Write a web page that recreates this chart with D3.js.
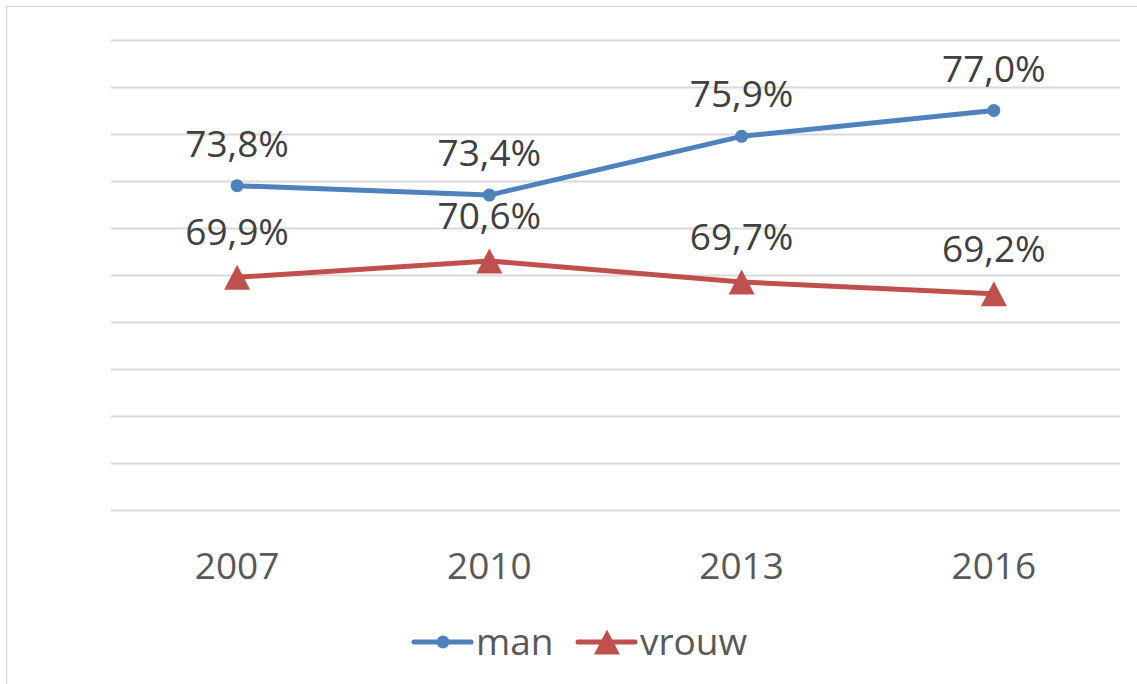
<!DOCTYPE html>
<html>
<head>
<meta charset="utf-8">
<script src="https://cdn.jsdelivr.net/npm/d3@7"></script>
<style>
  body { margin: 0; background: #fff; }
  svg { display: block; font-family: "Open Sans", "Noto Sans", sans-serif; }
</style>
</head>
<body>
<div id="chart"></div>
<script>
const years = ['2007', '2010', '2013', '2016'];
const manValues = [73.8, 73.4, 75.9, 77.0];
const vrouwValues = [69.9, 70.6, 69.7, 69.2];
const gridTicks = [60, 62, 64, 66, 68, 70, 72, 74, 76, 78, 80];

const W = 1137, H = 684;
const PLOT = { left: 111, right: 1120, top: 40, bottom: 510 };
const FONT = '37px';

const svg = d3.select('#chart').append('svg')
  .attr('width', W).attr('height', H);

// chart frame
svg.append('rect')
  .attr('x', 6.5).attr('y', 6.5)
  .attr('width', W + 10).attr('height', H + 10)
  .attr('fill', 'none').attr('stroke', '#d9d9d9').attr('stroke-width', 1.5);

const x = d3.scaleBand().domain(years).range([PLOT.left, PLOT.right]);
const y = d3.scaleLinear().domain([60, 80]).range([PLOT.bottom, PLOT.top]);

// gridlines
svg.append('g')
  .selectAll('line').data(gridTicks).join('line')
  .attr('x1', PLOT.left).attr('x2', PLOT.right)
  .attr('y1', d => Math.round(y(d)) + 0.5).attr('y2', d => Math.round(y(d)) + 0.5)
  .attr('stroke', '#d9d9d9').attr('stroke-width', 2);

// x axis labels
const xAxis = svg.append('g')
  .attr('transform', `translate(0,${PLOT.bottom})`)
  .call(d3.axisBottom(x).tickSize(0));
xAxis.select('.domain').remove();
xAxis.selectAll('text')
  .attr('y', 69).attr('dy', 0)
  .attr('font-family', '"Open Sans", "Noto Sans", sans-serif')
  .style('font-size', FONT).style('fill', '#595959');

const cx = d => x(d) + x.bandwidth() / 2;
const line = d3.line().x(d => cx(d[0])).y(d => y(d[1]));
const fmt = v => v.toFixed(1).replace('.', ',') + '%';
// Excel-style triangle marker, centred on its bounding box
const tri = 'M0,-12.5L13,12.5L-13,12.5Z';

const series = [
  { name: 'man', values: manValues, color: '#4f81bd', marker: 'circle' },
  { name: 'vrouw', values: vrouwValues, color: '#c0504d', marker: 'triangle' }
];

for (const s of series) {
  const pts = years.map((yr, i) => [yr, s.values[i]]);
  svg.append('path').datum(pts)
    .attr('d', line).attr('fill', 'none')
    .attr('stroke', s.color).attr('stroke-width', 5)
    .attr('stroke-linejoin', 'round').attr('stroke-linecap', 'round');

  if (s.marker === 'circle') {
    svg.append('g').selectAll('circle').data(pts).join('circle')
      .attr('cx', d => cx(d[0])).attr('cy', d => y(d[1])).attr('r', 6.5)
      .attr('fill', s.color);
  } else {
    svg.append('g').selectAll('path').data(pts).join('path')
      .attr('d', tri)
      .attr('transform', d => `translate(${cx(d[0])},${y(d[1])})`)
      .attr('fill', s.color);
  }

  // data labels
  svg.append('g').selectAll('text').data(pts).join('text')
    .attr('x', d => cx(d[0]))
    .attr('y', d => y(d[1]) - (s.marker === 'circle' ? 29 : 32))
    .attr('text-anchor', 'middle')
    .style('font-size', FONT).style('fill', '#404040')
    .text(d => fmt(d[1]));
}

// legend
const legend = svg.append('g').attr('transform', 'translate(0,642)');
const legendItems = [
  { x: 414, s: series[0] },
  { x: 578, s: series[1] }
];
for (const it of legendItems) {
  legend.append('line')
    .attr('x1', it.x).attr('x2', it.x + 57).attr('y1', 0).attr('y2', 0)
    .attr('stroke', it.s.color).attr('stroke-width', 5).attr('stroke-linecap', 'round');
  if (it.s.marker === 'circle') {
    legend.append('circle').attr('cx', it.x + 29).attr('cy', 0).attr('r', 6.5).attr('fill', it.s.color);
  } else {
    legend.append('path').attr('d', tri)
      .attr('transform', `translate(${it.x + 29},0)`).attr('fill', it.s.color);
  }
  legend.append('text')
    .attr('x', it.x + 62).attr('y', 13)
    .style('font-size', FONT).style('fill', '#595959')
    .text(it.s.name);
}
</script>
</body>
</html>
